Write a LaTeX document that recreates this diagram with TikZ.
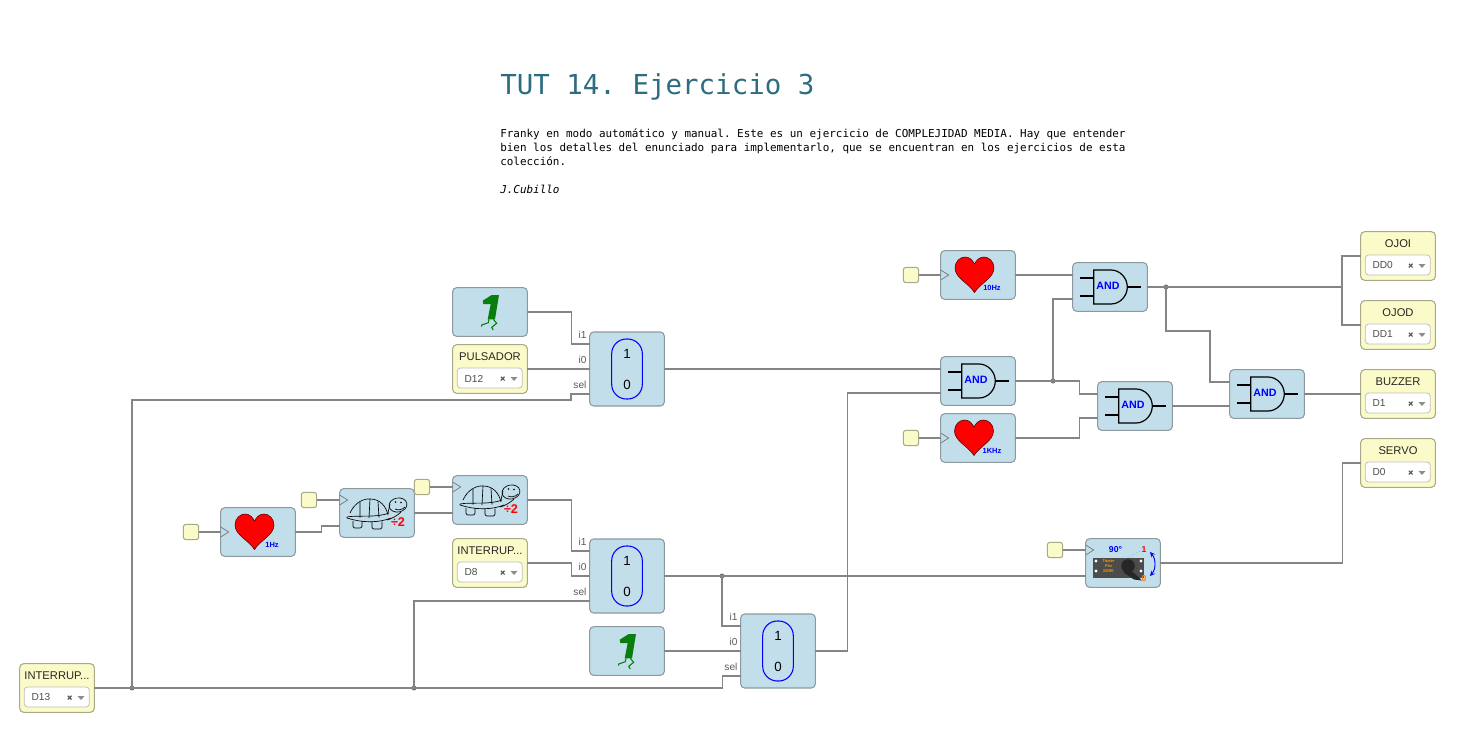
\documentclass[tikz,border=0pt]{standalone}
\usepackage{fontspec}
\setmainfont{Liberation Sans}
\newfontfamily\codefont{DejaVu Sans Mono}
\usetikzlibrary{calc}
\frenchspacing
\definecolor{blockblue}{HTML}{C1DEEA}
\definecolor{blockedge}{HTML}{8C9A9F}
\definecolor{pinyellow}{HTML}{FBFBC9}
\definecolor{pinedge}{HTML}{A8A88A}
\definecolor{wiregray}{HTML}{858585}
\definecolor{titleblue}{HTML}{2E6C80}
\definecolor{walkgreen}{HTML}{087F0C}
\tikzset{
  blockbox/.style={draw=blockedge,fill=blockblue,rounded corners=3pt,line width=0.8pt,minimum width=56pt,minimum height=36.5pt,outer sep=0pt},
  muxbox/.style={blockbox,minimum height=55.5pt},
  pinbox/.style={draw=pinedge,fill=pinyellow,rounded corners=3pt,line width=0.8pt,minimum width=56pt,minimum height=36.5pt,outer sep=0pt},
  clockbox/.style={draw=pinedge,fill=pinyellow,rounded corners=2pt,line width=0.8pt,minimum size=11.5pt,inner sep=0pt,outer sep=0pt},
  wire/.style={draw=wiregray,line width=0.9pt},
  joint/.style={circle,fill=wiregray!90!black,minimum size=3.8pt,inner sep=0pt,outer sep=0pt},
  portlabel/.style={text=black!65,font=\fontsize{7.6}{9}\selectfont,inner sep=0pt},
  pics/heart/.style 2 args={code={
    \begin{scope}[yscale=-1,shift={(#1,0)}]
      \draw[fill=red,draw=black!70!red,line width=0.4pt] (0,-17.5) .. controls (-6,-8) and (-19.5,-3) .. (-19.5,7) .. controls (-19.5,14) and (-14,18) .. (-9.5,18) .. controls (-5,18) and (-2,15) .. (0,11) .. controls (2,15) and (5,18) .. (9.5,18) .. controls (14,18) and (19.5,14) .. (19.5,7) .. controls (19.5,-3) and (6,-8) .. (0,-17.5) -- cycle;
    \end{scope}
    \node (-freq) at (14,12.5) [text=blue,font=\bfseries\fontsize{5.6}{6}\selectfont,inner sep=0pt]{#2};
  }},
  pics/walker/.style={code={
    \begin{scope}[yscale=-1]
      \fill[walkgreen] (-7.3,11.3) -- (1.7,17) -- (9,17) -- (5,-7.3) -- (-2.3,-7.3) -- (0.7,8) -- (-6.7,8) -- cycle;
      \draw[walkgreen,line width=0.8pt] (-1,-7.3) -- (-1.7,-10.7) -- (-8.3,-13) -- (-8.3,-14.7);
      \draw[walkgreen,line width=0.8pt] (3.3,-7.3) -- (6.7,-11.3) -- (1.7,-15.3) -- (3.3,-18);
    \end{scope}
  }},
  pics/muxsign/.style={code={
    \draw[blue,line width=0.8pt,rounded corners=11pt] (-15.3,-30) rectangle (15.3,30);
    \node (-one) at (0,-15) [font=\fontsize{10}{12}\selectfont,inner sep=0pt]{1};
    \node (-zero) at (0,16) [font=\fontsize{10}{12}\selectfont,inner sep=0pt]{0};
  }},
  pics/andgate/.style={code={
    \draw[line width=0.8pt] (-30,-9) -- (-16.3,-9) (-30,9) -- (-16.3,9) (17.3,0) -- (30.5,0);
    \draw[line width=0.9pt] (-16.3,-17) -- (1,-17) .. controls (10,-17) and (17.3,-9) .. (17.3,0) .. controls (17.3,9) and (10,17) .. (1,17) -- (-16.3,17) -- cycle;
    \node (-word) at (-2,-1) [text=blue,font=\bfseries\fontsize{8}{9}\selectfont,inner sep=0pt]{AND};
  }},
  pics/turtle/.style={code={
    \begin{scope}[yscale=-1,line width=0.5pt]
      \draw (-27,0) .. controls (-22,11) and (-13,14.5) .. (-7,14) .. controls (3,14) and (9,7) .. (11,-2);
      \draw (-30,-4) .. controls (-20,-2) and (0,-5) .. (12,0);
      \draw (-30,-5) .. controls (-15,-10) and (2,-10) .. (14,-5);
      \draw (-7,14) -- (-8,-5) (-17,11) -- (-17,-4.5) (1,11.5) -- (2,-4.5) (-30,-4) -- (-30,-5);
      \draw[rounded corners=1.5pt] (-24,-8) -- (-24,-15) -- (-15,-15) -- (-15,-8);
      \draw[rounded corners=1.5pt] (-5,-8.5) -- (-5,-16) -- (5,-16) -- (5,-8.5);
      \draw (11,0) -- (13,9) (10,-7) .. controls (14,-6) and (20,-3) .. (24,1);
      \draw[rotate around={-10:(21,8)}] (21,8) ellipse (9 and 7);
      \fill (18.5,11) circle (0.8) (24,10.5) circle (0.8);
      \draw (18,4) .. controls (21,2.5) and (25,3) .. (28,6);
    \end{scope}
    \node (-div) at (21,9) [text=red,font=\bfseries\fontsize{9.5}{10}\selectfont,inner sep=0pt]{÷2};
  }},
  pics/servohorn/.style={code={
    \begin{scope}[yscale=-1]
      \fill[black!70] (-30,5.5) rectangle (21,-14.5);
      \foreach \hx/\hy in {-27/2,-27/-8,18/2,18/-8} \fill[white] (\hx,\hy) circle (1.6);
      \draw[gray,dotted,line width=0.4pt] (2,4) -- (19,13);
      \fill[black!85] (11,-16.5) -- (19,-17.5) -- (10,-9) -- (0,-9) -- cycle;
      \fill[black!85] (5,-3) circle (6.8);
      \draw[blue,line width=0.7pt,<->,>=stealth] (27,11) .. controls (33,4) and (33,-6) .. (27,-13);
    \end{scope}
    \node (-deg) at (-7.5,-13) [text=blue,font=\bfseries\fontsize{6.5}{7}\selectfont,inner sep=0pt]{90\textdegree};
    \node (-hi) at (21,-13) [text=red,font=\bfseries\fontsize{6.5}{7}\selectfont,inner sep=0pt]{1};
    \node (-lo) at (21,16) [text=orange,font=\bfseries\fontsize{6.5}{7}\selectfont,inner sep=0pt]{0};
    \node (-brand) at (-14.5,3) [text=orange!80!yellow,align=center,font=\bfseries\fontsize{3.1}{3.8}\selectfont,inner sep=0pt]{Tower\\Pro\\SG90};
  }},
  pics/pinsel/.style 2 args={code={
    \node (-title) at (0,-12.5) [text=black!85,font=\fontsize{8.4}{10}\selectfont,inner sep=0pt]{#1};
    \draw[draw=black!25,fill=white,rounded corners=2.5pt,line width=0.6pt] (-32.7,-1) rectangle (32.3,19);
    \node (-pin) at (-25.7,9.5) [anchor=west,text=black!70,font=\fontsize{7.6}{9}\selectfont,inner sep=0pt]{#2};
    \draw[black!65,line width=0.9pt] (10.8,7.7) -- (14.6,11.5) (10.8,11.5) -- (14.6,7.7);
    \fill[black!45] (20.5,8) -- (27.5,8) -- (24,12) -- cycle;
  }},
  pics/clktip/.style={code={
    \draw[black!55,line width=0.5pt] (0,-5) -- (8,0) -- (0,5);
  }}
}
\begin{document}
\begin{tikzpicture}[x=0.75pt,y=-0.75pt]
\useasboundingbox (0,0) rectangle (1478,742);

% heading
\node (title) at (500,87) [anchor=west,inner sep=0pt,text=titleblue,font=\codefont\fontsize{20.6}{24}\selectfont]{TUT 14. Ejercicio 3};
\node (intro) at (500,128) [anchor=north west,inner sep=0pt,align=left,font=\codefont\fontsize{8.2}{10.5}\selectfont]{Franky en modo automático y manual. Este es un ejercicio de COMPLEJIDAD MEDIA. Hay que entender\\bien los detalles del enunciado para implementarlo, que se encuentran en los ejercicios de esta\\colección.};
\node (signer) at (500,189) [anchor=west,inner sep=0pt,font=\codefont\itshape\fontsize{8.2}{10.5}\selectfont]{J.Cubillo};

% blocks
\node (one1) at (490,312) [blockbox]{};
\node (one2) at (627,651) [blockbox]{};
\node (mux1) at (627,369) [muxbox]{};
\node (mux2) at (627,576) [muxbox]{};
\node (mux3) at (778,651) [muxbox]{};
\node (heart10) at (978,275) [blockbox]{};
\node (heart1k) at (978,438) [blockbox]{};
\node (heart1) at (258,532) [blockbox]{};
\node (and1) at (1110,287) [blockbox]{};
\node (and2) at (978,381) [blockbox]{};
\node (and3) at (1135,406) [blockbox]{};
\node (and4) at (1267,394) [blockbox]{};
\node (turtle1) at (377,513) [blockbox]{};
\node (turtle2) at (490,500) [blockbox]{};
\node (servo) at (1123,563) [blockbox]{};

% yellow pins
\node (pulsador) at (490,369) [pinbox]{};
\node (inter8) at (490,563) [pinbox]{};
\node (inter13) at (57,688) [pinbox]{};
\node (ojoi) at (1398,256) [pinbox]{};
\node (ojod) at (1398,325) [pinbox]{};
\node (buzzer) at (1398,394) [pinbox]{};
\node (servout) at (1398,463) [pinbox]{};

\node (clk10) at (911,275) [clockbox]{};
\node (clk1k) at (911,438) [clockbox]{};
\node (clk1) at (191,532) [clockbox]{};
\node (clkt1) at (309,500) [clockbox]{};
\node (clkt2) at (422,487) [clockbox]{};
\node (clksv) at (1055,550) [clockbox]{};

\node (j1) at (132,688) [joint]{};
\node (j2) at (414,688) [joint]{};
\node (j3) at (722,576) [joint]{};
\node (j4) at (1053,381) [joint]{};
\node (j5) at (1166,287) [joint]{};
\coordinate (split) at (1342,287);

% ports
\foreach \m in {mux1,mux2,mux3}{
  \coordinate (\m i1) at ($(\m.west)+(0,-25)$);
  \coordinate (\m i0) at (\m.west);
  \coordinate (\m sel) at ($(\m.west)+(0,25)$);
  \node (\m labi1) at ($(\m.west)+(-3,-34)$) [portlabel,anchor=east]{i1};
  \node (\m labi0) at ($(\m.west)+(-3,-9)$) [portlabel,anchor=east]{i0};
  \node (\m labsel) at ($(\m.west)+(-3,16)$) [portlabel,anchor=east]{sel};
}
\foreach \m in {and1,and2,and3,and4}{
  \coordinate (\m a) at ($(\m.west)+(0,-12)$);
  \coordinate (\m b) at ($(\m.west)+(0,12)$);
}
\foreach \m in {turtle1,turtle2,servo}{
  \coordinate (\m clk) at ($(\m.west)+(0,-13)$);
  \coordinate (\m d) at ($(\m.west)+(0,13)$);
}

% icons
\pic at (one1) {walker};
\pic at (one2) {walker};
\pic (m1) at (mux1) {muxsign};
\pic (m2) at (mux2) {muxsign};
\pic (m3) at (mux3) {muxsign};
\pic (h10) at (heart10) {heart={-3.5}{10Hz}};
\pic (h1k) at (heart1k) {heart={-4}{1KHz}};
\pic (h1) at (heart1) {heart={-3.5}{1Hz}};
\pic (g1) at (and1) {andgate};
\pic (g2) at (and2) {andgate};
\pic (g3) at (and3) {andgate};
\pic (g4) at (and4) {andgate};
\pic (t1) at (turtle1) {turtle};
\pic (t2) at (turtle2) {turtle};
\pic (sv) at (servo) {servohorn};
\pic (p1) at (pulsador) {pinsel={PULSADOR}{D12}};
\pic (p2) at (inter8) {pinsel={INTERRUP...}{D8}};
\pic (p3) at (inter13) {pinsel={INTERRUP...}{D13}};
\pic (p4) at (ojoi) {pinsel={OJOI}{DD0}};
\pic (p5) at (ojod) {pinsel={OJOD}{DD1}};
\pic (p6) at (buzzer) {pinsel={BUZZER}{D1}};
\pic (p7) at (servout) {pinsel={SERVO}{D0}};
\pic at (heart10.west) {clktip};
\pic at (heart1k.west) {clktip};
\pic at (heart1.west) {clktip};
\pic at (turtle1clk) {clktip};
\pic at (turtle2clk) {clktip};
\pic at (servoclk) {clktip};

% wires
\draw[wire] (one1.east) -- ++(44,0) |- (mux1i1);
\draw[wire] (pulsador.east) -- (mux1i0);
\draw[wire] (inter13.east) -- ++(628,0) |- (mux3sel);
\draw[wire] (j1.center) -- ++(0,-288) -- ++(439,0) |- (mux1sel);
\draw[wire] (j2.center) |- (mux2sel);
\draw[wire] (clk1) -- (heart1.west);
\draw[wire] (clkt1) -- (turtle1clk);
\draw[wire] (clkt2) -- (turtle2clk);
\draw[wire] (heart1.east) -- ++(26,0) |- (turtle1d);
\draw[wire] (turtle1.east) -- (turtle2d);
\draw[wire] (turtle2.east) -- ++(44,0) |- (mux2i1);
\draw[wire] (inter8.east) -- ++(44,0) |- (mux2i0);
\draw[wire] (mux2.east) -- (servod);
\draw[wire] (j3.center) |- (mux3i1);
\draw[wire] (one2.east) -- (mux3i0);
\draw[wire] (mux3.east) -- ++(32,0) |- (and2b);
\draw[wire] (mux1.east) -- (and2a);
\draw[wire] (clk10) -- (heart10.west);
\draw[wire] (clk1k) -- (heart1k.west);
\draw[wire] (clksv) -- (servoclk);
\draw[wire] (heart10.east) -- (and1a);
\draw[wire] (and2.east) -- ++(64,0) |- (and3a);
\draw[wire] (j4.center) |- (and1b);
\draw[wire] (heart1k.east) -- ++(64,0) |- (and3b);
\draw[wire] (and1.east) -- (split);
\draw[wire] (split) |- (ojoi.west);
\draw[wire] (split) |- (ojod.west);
\draw[wire] (j5.center) -- ++(0,44) -- ++(44,0) |- (and4a);
\draw[wire] (and3.east) -- (and4b);
\draw[wire] (and4.east) -- (buzzer.west);
\draw[wire] (servo.east) -- ++(182,0) |- (servout.west);
\end{tikzpicture}
\end{document}
